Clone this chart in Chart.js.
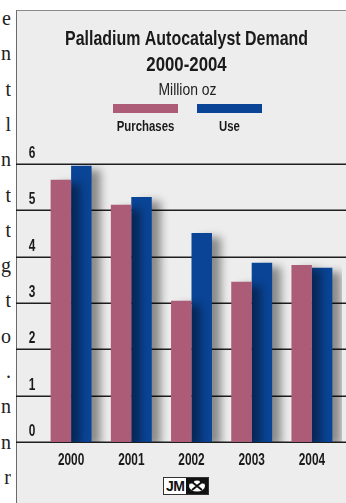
<!DOCTYPE html>
<html>
<head>
<meta charset="utf-8">
<script src="https://cdn.jsdelivr.net/npm/chart.js@4.4.0/dist/chart.umd.min.js"></script>
<style>
html,body{margin:0;padding:0;width:346px;height:503px;overflow:hidden;background:#fff;}
#side{position:absolute;left:0;top:0;width:11px;height:503px;overflow:hidden;}
#side div{position:absolute;right:0;font:20px "Liberation Serif",serif;color:#222;line-height:20px;white-space:nowrap;}
#panel{position:absolute;left:16px;top:10px;width:340px;height:500px;background:#ededed;border-top:1px solid #8a8a8a;border-left:1.5px solid #6a6a6a;}
#wrap{position:absolute;left:16px;top:0;width:341px;height:503px;}
#logo{position:absolute;left:163px;top:477px;height:16px;border:1px solid #333;display:flex;background:#fff;}
#logo span{font:bold 14px "Liberation Sans",Arial,sans-serif;line-height:16px;padding:0 2px;color:#111;letter-spacing:-0.5px;}
#logo svg{display:block;}
</style>
</head>
<body>
<div id="side"></div>
<div id="panel"></div>
<div id="wrap"><canvas id="c" width="341" height="503"></canvas></div>
<div id="logo"><span>JM</span><svg width="22" height="16" viewBox="0 0 22 16"><rect width="22" height="16" fill="#111"/><ellipse cx="11" cy="8" rx="8" ry="5.5" fill="#fff"/><path d="M6 4 L16 12 M16 4 L6 12" stroke="#111" stroke-width="2"/><path d="M4 5 L8 3 M14 3 L18 5" stroke="#111" stroke-width="2"/></svg></div>
<script>
const sideLetters = ['e','n','t','l','n','t','t','g','t','o','.','n','n','r'];
const titleLines = ['Palladium Autocatalyst Demand','2000-2004'];
const unitLabel = 'Million oz';
const categories = ['2000','2001','2002','2003','2004'];
const purchases = [5.66, 5.12, 3.05, 3.46, 3.82];
const use = [5.96, 5.29, 4.51, 3.87, 3.76];
const yTicks = [0,1,2,3,4,5,6];
const seriesNames = ['Purchases','Use'];
const seriesColors = ['#ad5c78','#0a4496'];

const side = document.getElementById('side');
sideLetters.forEach((ch,i)=>{
  const d=document.createElement('div');
  d.textContent=ch;
  d.style.top=(8+i*35.3)+'px';
  side.appendChild(d);
});

const FAM = '"Liberation Sans",Arial,sans-serif';
function txt(ctx, s, x, y, font, sx, color){
  ctx.save();
  ctx.translate(x,y);
  ctx.scale(sx,1);
  ctx.font = font;
  ctx.fillStyle = color || '#1a1a1a';
  ctx.textAlign = 'center';
  ctx.textBaseline = 'alphabetic';
  ctx.fillText(s,0,0);
  ctx.restore();
}

const gridPlugin = {
  id:'fullGrid',
  beforeDatasetsDraw(chart){
    const ys = chart.scales.y, ctx = chart.ctx;
    ctx.save();
    ctx.strokeStyle = '#1e1e1e';
    ctx.lineWidth = 1.5;
    ys.ticks.forEach(t=>{
      const y = Math.round(ys.getPixelForValue(t.value))+0.25;
      ctx.beginPath(); ctx.moveTo(0,y); ctx.lineTo(chart.width,y); ctx.stroke();
    });
    ctx.restore();
    ctx.save();
    ctx.shadowColor = 'rgba(0,0,0,0.42)';
    ctx.shadowBlur = 8;
    ctx.shadowOffsetX = 9;
    ctx.shadowOffsetY = 4;
  },
  afterDatasetsDraw(chart){
    chart.ctx.restore();
  }
};

const textPlugin = {
  id:'condensedText',
  afterDraw(chart){
    const ctx = chart.ctx;
    const cx = chart.width/2;
    // titles
    txt(ctx, titleLines[0], cx, 45, 'bold 21px '+FAM, 0.76);
    txt(ctx, titleLines[1], cx, 71, 'bold 21px '+FAM, 0.80);
    txt(ctx, unitLabel, cx+1, 95, '17px '+FAM, 0.82, '#222');
    // legend
    const ds = chart.data.datasets;
    const bw = 65, bh = 9, gap = 19;
    const total = ds.length*bw + (ds.length-1)*gap;
    let x = cx + 1 - total/2;
    ds.forEach(d=>{
      ctx.fillStyle = d.backgroundColor;
      ctx.fillRect(x,104,bw,bh);
      txt(ctx, d.label, x+bw/2, 131, 'bold 15px '+FAM, 0.76);
      x += bw+gap;
    });
    // y tick labels
    const ys = chart.scales.y;
    ys.ticks.forEach(t=>{
      const y = Math.round(ys.getPixelForValue(t.value));
      txt(ctx, String(t.value), 16, y-6, 'bold 16px '+FAM, 0.74);
    });
    // x tick labels
    const xs = chart.scales.x;
    chart.data.labels.forEach((l,i)=>{
      txt(ctx, l, xs.getPixelForTick(i), 465, 'bold 16px '+FAM, 0.74);
    });
  }
};

new Chart(document.getElementById('c'), {
  type:'bar',
  data:{
    labels:categories,
    datasets:[
      {label:seriesNames[0], data:purchases, backgroundColor:seriesColors[0], borderWidth:0},
      {label:seriesNames[1], data:use, backgroundColor:seriesColors[1], borderWidth:0}
    ]
  },
  options:{
    responsive:false,
    animation:false,
    devicePixelRatio:1,
    layout:{padding:{left:0,right:15,top:164,bottom:0}},
    categoryPercentage:0.68,
    barPercentage:1.0,
    plugins:{
      legend:{display:false},
      tooltip:{enabled:false},
      title:{display:false},
      subtitle:{display:false}
    },
    scales:{
      x:{
        grid:{display:false}, border:{display:false},
        ticks:{display:false},
        afterFit(s){ s.height = 61; }
      },
      y:{
        min:0, max:6,
        afterBuildTicks(s){ s.ticks = yTicks.map(v=>({value:v})); },
        grid:{display:false}, border:{display:false},
        ticks:{display:false},
        afterFit(s){ s.width = 25; }
      }
    }
  },
  plugins:[gridPlugin, textPlugin]
});
</script>
</body>
</html>
